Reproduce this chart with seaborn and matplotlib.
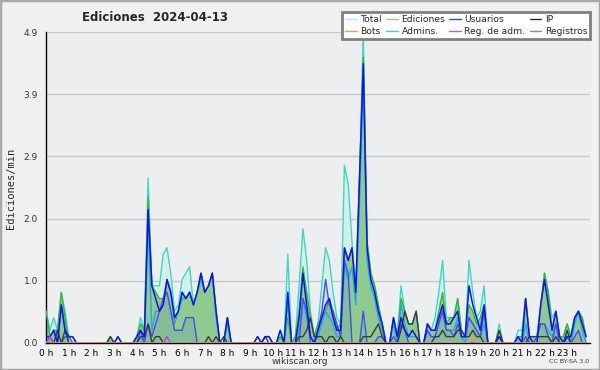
import numpy as np
import pandas as pd
import matplotlib
matplotlib.use("Agg")
import matplotlib.pyplot as plt
import seaborn as sns
from matplotlib.lines import Line2D
from matplotlib.patches import Rectangle

# edits per minute, one value per 10-minute bin (6 per hour, 0h..23h50)
total = [0.5, 0.2, 0.4, 0.2, 0.8, 0.5,  0.1, 0.1, 0, 0, 0, 0,
         0, 0, 0, 0, 0, 0.1,  0, 0.1, 0, 0, 0, 0,
         0.1, 0.4, 0.2, 2.6, 0.9, 0.9,  0.9, 1.4, 1.5, 1.1, 0.5, 0.6,
         1.0, 1.1, 1.2, 0.6, 0.8, 1.1,  0.8, 0.9, 1.1, 0.5, 0, 0,
         0.4, 0, 0, 0, 0, 0,  0, 0, 0.1, 0, 0.1, 0.1,
         0, 0, 0.2, 0, 1.4, 0,  0.1, 0.9, 1.8, 1.3, 0.5, 0.1,
         0.3, 0.9, 1.5, 1.3, 0.8, 0.4,  0.3, 2.8, 2.5, 1.6, 0.8, 2.6,
         4.9, 1.6, 1.1, 0.9, 0.6, 0.3,  0, 0, 0.4, 0.1, 0.9, 0.5,
         0.3, 0.3, 0.5, 0, 0, 0.3,  0.2, 0.4, 0.8, 1.3, 0.4, 0.4,
         0.4, 0.7, 0.2, 0.1, 1.3, 0.8,  0.4, 0.5, 0.9, 0, 0, 0,
         0.3, 0, 0, 0, 0, 0.2,  0.2, 0.7, 0.1, 0.1, 0.1, 0.6,
         1.1, 0.8, 0.4, 0.5, 0.1, 0.1,  0.3, 0.1, 0.4, 0.5, 0.4, 0.1]

edits = [0.5, 0.1, 0.2, 0.2, 0.8, 0.4,  0, 0, 0, 0, 0, 0,
         0, 0, 0, 0, 0, 0.1,  0, 0, 0, 0, 0, 0,
         0.1, 0.3, 0.2, 2.3, 0.9, 0.8,  0.7, 0.7, 1.0, 0.8, 0.4, 0.5,
         0.8, 0.7, 0.8, 0.6, 0.8, 1.1,  0.8, 0.9, 1.1, 0.5, 0, 0,
         0.4, 0, 0, 0, 0, 0,  0, 0, 0, 0, 0, 0,
         0, 0, 0.1, 0, 0.4, 0,  0.1, 0.5, 1.2, 0.8, 0.4, 0.1,
         0.3, 0.4, 0.5, 0.7, 0.5, 0.2,  0.3, 1.5, 1.3, 1.5, 0.8, 2.6,
         4.5, 1.6, 1.1, 0.9, 0.6, 0.3,  0, 0, 0.4, 0.1, 0.7, 0.5,
         0.3, 0.3, 0.5, 0, 0, 0.3,  0.2, 0.2, 0.5, 0.8, 0.3, 0.4,
         0.4, 0.7, 0.2, 0.1, 0.6, 0.5,  0.3, 0.4, 0.6, 0, 0, 0,
         0.2, 0, 0, 0, 0, 0.1,  0.1, 0.7, 0.1, 0.1, 0.1, 0.6,
         1.1, 0.8, 0.2, 0.5, 0.1, 0.1,  0.3, 0.1, 0.4, 0.5, 0.4, 0.1]

users = [0.1, 0.1, 0.2, 0, 0.6, 0.2,  0.1, 0.1, 0, 0, 0, 0,
         0, 0, 0, 0, 0, 0,  0, 0.1, 0, 0, 0, 0,
         0.1, 0.2, 0.1, 2.1, 0.9, 0.7,  0.5, 0.6, 1.0, 0.8, 0.4, 0.5,
         0.8, 0.7, 0.8, 0.6, 0.8, 1.1,  0.8, 0.9, 1.1, 0.5, 0, 0,
         0.4, 0, 0, 0, 0, 0,  0, 0, 0.1, 0, 0.1, 0.1,
         0, 0, 0.2, 0, 0.8, 0,  0, 0.4, 1.1, 0.6, 0.1, 0,
         0.2, 0.4, 0.6, 0.7, 0.4, 0.2,  0.2, 1.5, 1.3, 1.5, 0.8, 2.6,
         4.4, 1.5, 1.0, 0.8, 0.5, 0.3,  0, 0, 0.4, 0.1, 0.4, 0.2,
         0.1, 0.2, 0.1, 0, 0, 0.3,  0.2, 0.2, 0.4, 0.6, 0.3, 0.3,
         0.4, 0.5, 0.1, 0.1, 0.9, 0.6,  0.4, 0.2, 0.6, 0, 0, 0,
         0.1, 0, 0, 0, 0, 0.1,  0, 0.7, 0.1, 0, 0, 0.6,
         1.0, 0.6, 0.2, 0.5, 0.1, 0,  0.1, 0.1, 0.4, 0.5, 0.3, 0.1]

admins = [0, 0.1, 0.2, 0, 0.6, 0.2,  0, 0, 0, 0, 0, 0,
          0, 0, 0, 0, 0, 0,  0, 0, 0, 0, 0, 0,
          0, 0.1, 0, 1.9, 0.2, 0.5,  0.5, 0.6, 1.0, 0.8, 0.3, 0.5,
          0.7, 0.7, 0.8, 0.6, 0.8, 1.0,  0.8, 0.9, 1.1, 0.4, 0, 0,
          0.3, 0, 0, 0, 0, 0,  0, 0, 0, 0, 0, 0,
          0, 0, 0, 0, 0.6, 0,  0, 0.2, 0.7, 0.4, 0.1, 0,
          0.1, 0.3, 0.5, 0.4, 0.3, 0.1,  0.1, 1.2, 1.0, 1.2, 0.6, 2.2,
          4.2, 1.3, 0.9, 0.7, 0.4, 0.2,  0, 0, 0.3, 0, 0.6, 0.3,
          0.1, 0.1, 0.1, 0, 0, 0.2,  0.1, 0.1, 0.3, 0.5, 0.2, 0.2,
          0.2, 0.4, 0.1, 0, 0.4, 0.3,  0.2, 0.1, 0.3, 0, 0, 0,
          0.1, 0, 0, 0, 0, 0.1,  0, 0.3, 0, 0, 0.1, 0.3,
          0.3, 0.2, 0.1, 0.3, 0, 0,  0.1, 0, 0.3, 0.5, 0.2, 0]

logs = [0.1, 0.1, 0, 0, 0, 0.1,  0.1, 0, 0, 0, 0, 0,
        0, 0, 0, 0, 0, 0,  0, 0, 0, 0, 0, 0,
        0, 0.2, 0, 0.3, 0.1, 0.3,  0.5, 0.7, 0.8, 0.5, 0.2, 0.2,
        0.2, 0.4, 0.4, 0.4, 0, 0,  0, 0, 0, 0, 0, 0,
        0, 0, 0, 0, 0, 0,  0, 0, 0, 0, 0, 0,
        0, 0, 0, 0, 0, 0,  0, 0, 0.7, 0.5, 0, 0,
        0.2, 0.5, 1.0, 0.6, 0.5, 0.3,  0.1, 1.3, 1.1, 0, 0, 0,
        0.5, 0, 0, 0, 0.1, 0.1,  0, 0, 0.1, 0, 0.3, 0.2,
        0, 0, 0, 0, 0, 0.2,  0.1, 0.1, 0.3, 0.5, 0.2, 0.2,
        0.1, 0.3, 0.1, 0.1, 0.4, 0.3,  0.2, 0.1, 0.5, 0, 0, 0,
        0, 0, 0, 0, 0, 0,  0, 0.1, 0, 0, 0.1, 0.3,
        0.3, 0.1, 0, 0.3, 0, 0,  0.1, 0, 0.1, 0.2, 0, 0]

ip = [0, 0, 0, 0.2, 0, 0.2,  0, 0, 0, 0, 0, 0,
      0, 0, 0, 0, 0, 0.1,  0, 0, 0, 0, 0, 0,
      0, 0.1, 0.1, 0.3, 0, 0.1,  0.1, 0, 0, 0, 0, 0,
      0, 0, 0, 0, 0, 0,  0, 0.1, 0, 0.1, 0, 0.1,
      0, 0, 0, 0, 0, 0,  0, 0, 0, 0, 0.1, 0,
      0, 0, 0, 0, 0, 0,  0, 0.1, 0.1, 0.2, 0.4, 0.1,
      0.1, 0.1, 0, 0.1, 0.1, 0,  0.1, 0, 0, 0, 0, 0,
      0.1, 0.1, 0.1, 0.2, 0.3, 0.1,  0, 0, 0, 0, 0.2, 0.5,
      0.3, 0.3, 0.5, 0, 0, 0,  0, 0.1, 0.1, 0.2, 0.1, 0.1,
      0.1, 0.2, 0.2, 0.1, 0.1, 0.2,  0.1, 0.1, 0, 0, 0, 0,
      0.2, 0, 0, 0, 0, 0,  0, 0, 0.1, 0.1, 0.1, 0.1,
      0.1, 0.1, 0, 0.1, 0, 0,  0.2, 0, 0, 0, 0, 0]

admin_logs = [0] * 144
admin_logs[1] = 0.1
admin_logs[32] = 0.1
bots = [0] * 144
bots[113] = 0.1

hour_labels = [f"{h} h" for h in range(24)]
y_top = 4.9

t = np.arange(144) / 6.0
df = pd.DataFrame({"t": t, "total": total, "edits": edits, "users": users,
                   "admins": admins, "logs": logs, "ip": ip,
                   "admin_logs": admin_logs, "bots": bots})

sns.set_style("white")
plt.rcParams["font.family"] = ["DejaVu Sans"]

fig = plt.figure(figsize=(6, 3.7), dpi=100, facecolor="#f0f0f0")
ax = fig.add_axes([0.077, 0.073, 0.906, 0.8405])
ax.set_facecolor("#eceef0")

# grid
for v in np.linspace(0, y_top, 6)[1:]:
    ax.axhline(v, color="#c8c8c8", lw=1, zorder=0)

# filled areas
ax.fill_between(df["t"], 0, df["total"], color="#d4efea", lw=0, zorder=1)
ax.fill_between(df["t"], 0, df["edits"], color="#8fcb8f", lw=0, zorder=2)
ax.fill_between(df["t"], 0, df["logs"], color="#5060e0", alpha=0.13, lw=0, zorder=3)

lines = [("total", "#3fd6c6", 1.0), ("edits", "#3cb43c", 1.0),
         ("admins", "#22a8e6", 1.0), ("logs", "#4a4af2", 1.0),
         ("ip", "#3a3a3a", 1.0), ("users", "#1414dc", 1.1),
         ("admin_logs", "#c040e0", 1.0), ("bots", "#f0a040", 1.0)]
for i, (col, c, lw) in enumerate(lines):
    sns.lineplot(data=df, x="t", y=col, ax=ax, color=c, lw=lw, zorder=4 + i)

ax.set_xlim(0, 24)
ax.set_ylim(0, y_top)
ax.set_xticks(range(24))
ax.set_xticklabels(hour_labels)
ax.set_xticks(np.arange(0, 24, 1 / 6), minor=True)
ax.set_yticks(np.linspace(0, y_top, 6))
ax.set_yticklabels([f"{v:.1f}" for v in np.linspace(0, y_top, 6)])
ax.set_yticks(np.linspace(0, y_top, 26), minor=True)
ax.tick_params(axis="x", which="both", direction="out", length=3, width=1,
               labelsize=6.5, pad=1, colors="black")
ax.tick_params(axis="y", which="major", direction="out", length=5, width=1,
               labelsize=6.5, pad=1, labelcolor="#333333")
ax.tick_params(axis="y", which="minor", direction="out", length=3, width=1)
ax.set_xlabel("")
ax.set_ylabel("")
for s in ["top", "right"]:
    ax.spines[s].set_visible(False)
for s in ["left", "bottom"]:
    ax.spines[s].set_color("black")
    ax.spines[s].set_linewidth(1)

fig.text(0.258, 0.953, "Ediciones  2024-04-13", ha="center", va="center",
         fontsize=8.5, fontweight="bold")
fig.text(0.018, 0.49, "Ediciones/min", rotation=90, ha="center", va="center",
         fontsize=7.5, family="DejaVu Sans Mono")
fig.text(0.5, 0.024, "wikiscan.org", ha="center", va="center", fontsize=6.5,
         color="#333333")
fig.text(0.982, 0.022, "CC BY-SA 3.0", ha="right", va="center", fontsize=4.5,
         color="#333333")

handles = [Line2D([], [], color="#b5eae6", lw=1), Line2D([], [], color="#f0a040", lw=1),
           Line2D([], [], color="#8fd08f", lw=1), Line2D([], [], color="#40c8e0", lw=1),
           Line2D([], [], color="#4040e0", lw=1), Line2D([], [], color="#d050e0", lw=1),
           Line2D([], [], color="#303030", lw=1), Line2D([], [], color="#8080f0", lw=1)]
labels = ["Total", "Bots", "Ediciones", "Admins.", "Usuarios", "Reg. de adm.",
          "IP", "Registros"]
leg = fig.legend(handles, labels, ncol=4, loc="upper right",
                 bbox_to_anchor=(0.984, 0.968), fontsize=6.6, frameon=True,
                 fancybox=False, handlelength=1.3, handletextpad=0.35,
                 columnspacing=0.45, labelspacing=0.35, borderpad=0.35,
                 borderaxespad=0)
leg.get_frame().set_edgecolor("#808080")
leg.get_frame().set_linewidth(2)
leg.get_frame().set_facecolor("white")
leg.get_frame().set_alpha(1)

fig.patches.append(Rectangle((0, 0), 1, 1, transform=fig.transFigure,
                             fill=False, edgecolor="#a8a8a8", lw=2.5))

fig.savefig("out.png", dpi=100, facecolor=fig.get_facecolor())
